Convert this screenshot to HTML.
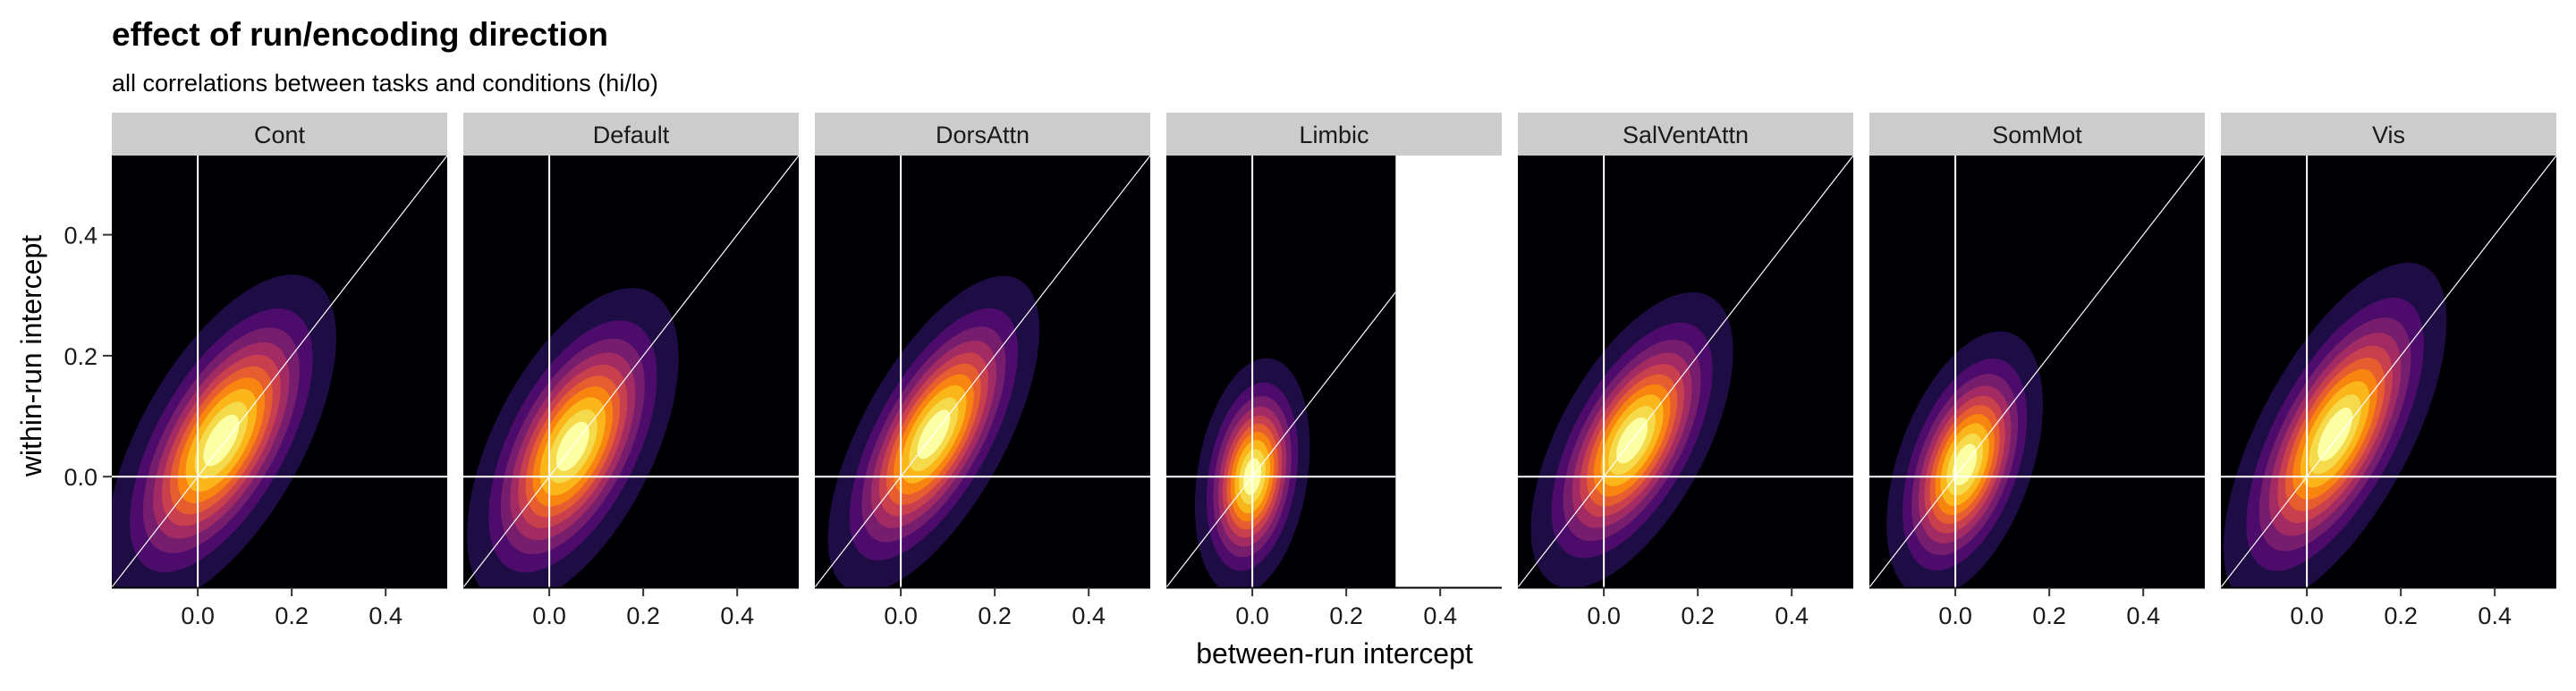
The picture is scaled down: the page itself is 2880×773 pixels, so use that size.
<!DOCTYPE html>
<html><head><meta charset="utf-8"><style>
html,body{margin:0;padding:0;background:#fff;}
svg text{font-family:"Liberation Sans",sans-serif;}
</style></head><body>
<svg id="chart" width="2880" height="768" xmlns="http://www.w3.org/2000/svg">
<text x="125" y="51" font-size="37" font-weight="bold" fill="#000">effect of run/encoding direction</text>
<text x="125" y="102" font-size="27" fill="#000">all correlations between tasks and conditions (hi/lo)</text>
<text transform="translate(46,398) rotate(-90)" text-anchor="middle" font-size="32" fill="#000">within-run intercept</text>
<text x="1492" y="742" text-anchor="middle" font-size="32" fill="#000">between-run intercept</text>
<g id="panels"></g>
</svg>
<script>
const panelNames=["Cont","Default","DorsAttn","Limbic","SalVentAttn","SomMot","Vis"];
const centerX=[0.05,0.05,0.07,0.0,0.06,0.02,0.06];
const centerY=[0.06,0.05,0.07,0.0,0.06,0.02,0.07];
const sdX=[0.1,0.092,0.092,0.05,0.088,0.068,0.097];
const sdY=[0.112,0.107,0.107,0.08,0.1,0.09,0.116];
const rhoXY=[0.62,0.56,0.66,0.25,0.6,0.45,0.66];
const dataMaxX=[0.531,0.531,0.531,0.305,0.531,0.531,0.531];
const tickVals=[0,0.2,0.4];
const tickLabels=["0.0","0.2","0.4"];
const levelFrac=[0.05,0.15,0.25,0.35,0.45,0.55,0.65,0.75,0.85,0.93];
const levelColors=["#1e0c45","#4d0c6b","#771d6d","#a12b62","#c83f4e","#e65d2f","#f8850f","#fbb61a","#f5db4b","#fcffa4"];

const NS="http://www.w3.org/2000/svg";
const g=document.getElementById('panels');
const X0=125,PITCH=393,PW=375,TOP=174,BOT=657,STRIPTOP=126;
const DMIN=-0.183,DMAX=0.531;
function sx(v,i){return X0+i*PITCH+(v-DMIN)/(DMAX-DMIN)*PW;}
function sy(v){return BOT-(v-DMIN)/(DMAX-DMIN)*(BOT-TOP);}
function mk(tag,attrs,parent){const e=document.createElementNS(NS,tag);for(const k in attrs)e.setAttribute(k,attrs[k]);parent.appendChild(e);return e;}

const kx=PW/(DMAX-DMIN), ky=(BOT-TOP)/(DMAX-DMIN);
panelNames.forEach((name,i)=>{
  const pg=mk('g',{},g);
  
  
  const left=X0+i*PITCH;
  const strip=mk('rect',{x:left,y:STRIPTOP,width:PW,height:TOP-STRIPTOP,fill:'#cccccc'},pg);
  
  
  const st=mk('text',{x:left+PW/2,y:160,'text-anchor':'middle','font-size':27,fill:'#1a1a1a'},pg);
  st.textContent=name;
  
  
  const right=sx(dataMaxX[i],i);
  const cid='clip'+i;
  const cp=mk('clipPath',{id:cid},pg);
  mk('rect',{x:left,y:TOP,width:right-left,height:BOT-TOP},cp);
  const bg=mk('rect',{x:left,y:TOP,width:right-left,height:BOT-TOP,fill:'#000004'},pg);
  
  
  const dg=mk('g',{'clip-path':'url(#'+cid+')'},pg);
  const a=sdX[i]*sdX[i]*kx*kx, d=sdY[i]*sdY[i]*ky*ky, b=-rhoXY[i]*sdX[i]*sdY[i]*kx*ky;
  const tr=(a+d)/2, det=Math.sqrt(((a-d)/2)**2+b*b);
  const l1=tr+det,l2=tr-det;
  const ang=Math.atan2(l1-a,b)*180/Math.PI;
  const cxp=sx(centerX[i],i), cyp=sy(centerY[i]);
  levelFrac.forEach((f,k)=>{
    const r=Math.sqrt(-2*Math.log(f));
    const e=mk('ellipse',{cx:cxp,cy:cyp,rx:r*Math.sqrt(l1),ry:r*Math.sqrt(l2),transform:`rotate(${ang} ${cxp} ${cyp})`,fill:levelColors[k]},dg);
    
    
  });
  mk('line',{x1:sx(0,i),x2:sx(0,i),y1:TOP,y2:BOT,stroke:'#fff','stroke-width':2},dg);
  mk('line',{x1:left,x2:right,y1:sy(0),y2:sy(0),stroke:'#fff','stroke-width':2},dg);
  const dl=mk('line',{x1:sx(DMIN,i),y1:sy(DMIN),x2:sx(dataMaxX[i],i),y2:sy(dataMaxX[i]),stroke:'#fff','stroke-width':1.2},dg);
  
  
  mk('line',{x1:left,x2:left+PW,y1:BOT+0.5,y2:BOT+0.5,stroke:'#000','stroke-width':2},pg);
  tickVals.forEach((v,t)=>{
    mk('line',{x1:sx(v,i),x2:sx(v,i),y1:BOT,y2:BOT+10,stroke:'#333','stroke-width':2},pg);
    const tl=mk('text',{x:sx(v,i),y:698,'text-anchor':'middle','font-size':27,fill:'#1a1a1a'},pg);
    tl.textContent=tickLabels[t];
    
    
  });
});
tickVals.forEach((v,t)=>{
  mk('line',{x1:115,x2:125,y1:sy(v),y2:sy(v),stroke:'#333','stroke-width':2},g);
  const tl=mk('text',{x:109,y:sy(v)+10,'text-anchor':'end','font-size':27,fill:'#1a1a1a'},g);
  tl.textContent=tickLabels[t];
  
  
});
</script>
</body></html>
